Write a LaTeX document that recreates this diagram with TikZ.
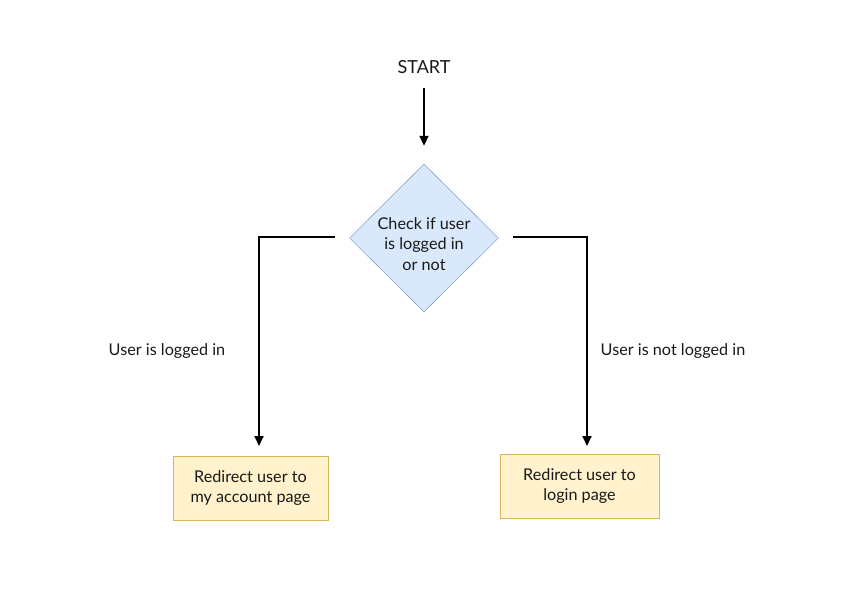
\documentclass[tikz,border=0pt]{standalone}
\usepackage{fontspec}
\setmainfont{Lato}
\usetikzlibrary{shapes.geometric,arrows.meta,calc}
\definecolor{dfill}{HTML}{DAE8FC}
\definecolor{dline}{HTML}{6C8EBF}
\definecolor{bfill}{HTML}{FFF2CC}
\definecolor{bline}{HTML}{D6B656}
\begin{document}
\begin{tikzpicture}[x=1pt,y=-1pt,
  every node/.style={font=\fontsize{16.2}{20.5}\selectfont, text=black!90},
  decision/.style={diamond, draw=dline, fill=dfill, minimum width=149pt, minimum height=148pt, inner sep=0pt, align=center},
  actbox/.style={rectangle, draw=bline, fill=bfill, minimum height=64pt, align=center, inner sep=0pt},
  conn/.style={draw=black, line width=1.7pt, -{Triangle[length=10pt,width=9pt]}}
]
\useasboundingbox (0,0) rectangle (850,600);
\node[font=\fontsize{18}{22}\selectfont] (start) at (424,67) {START};
\node[decision] (dec) at (424,238) {};
\node[align=center] (dtext) at (424,244) {Check if user\\is logged in\\or not};
\node[actbox, minimum width=155pt] (acct) at (250.5,488) {Redirect user to\\my account page};
\node[actbox, minimum width=159pt] (login) at (579.5,486) {Redirect user to\\login page};
\coordinate (sa) at (424,88);
\coordinate (ls) at (335,237);
\coordinate (lc) at (259,237);
\coordinate (le) at (259,446);
\coordinate (rs) at (513,237);
\coordinate (rc) at (587,237);
\coordinate (re) at (587,446);
\draw[conn] (sa) -- ($(dec.north)+(0,-18)$);
\draw[conn] (ls) -- (lc) -- (le);
\draw[conn] (rs) -- (rc) -- (re);
\node (ll) at (167,351) {User is logged in};
\node (rl) at (673,351) {User is not logged in};
\end{tikzpicture}
\end{document}
